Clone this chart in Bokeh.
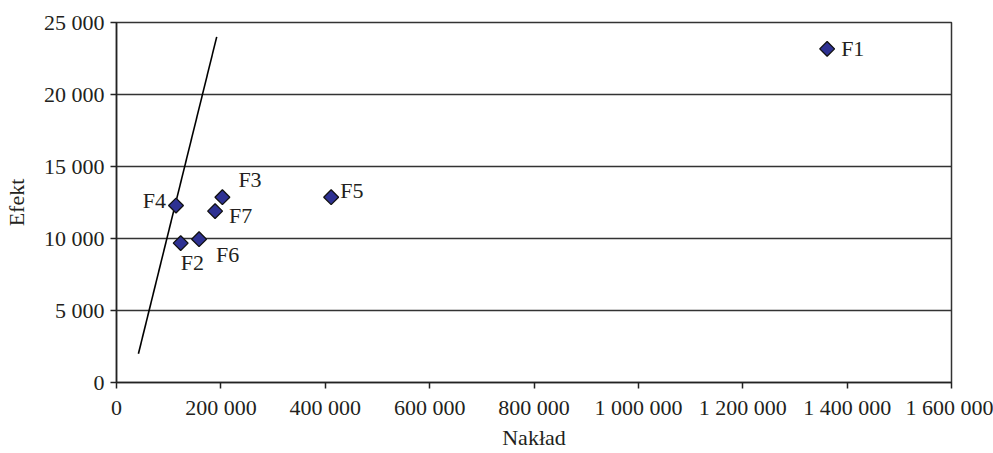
import math
from bokeh.plotting import figure
from bokeh.models import ColumnDataSource, FixedTicker, Range1d
from bokeh.core.properties import value
from bokeh.embed import file_html
from bokeh.resources import INLINE

# Firms: outlay (Nakład) vs effect (Efekt)
names = ["F1", "F2", "F3", "F4", "F5", "F6", "F7"]
naklad = [1361700, 123000, 202900, 114000, 411300, 158200, 188900]
efekt = [23170, 9680, 12870, 12290, 12870, 9950, 11900]

# Reference line end points
line_x = [42000, 192000]
line_y = [2000, 24000]

x_ticks = [0, 200000, 400000, 600000, 800000, 1000000, 1200000, 1400000, 1600000]
x_tick_labels = ["0", "200 000", "400 000", "600 000", "800 000", "1 000 000",
                 "1 200 000", "1 400 000", "1 600 000"]
y_ticks = [0, 5000, 10000, 15000, 20000, 25000]
y_tick_labels = ["0", "5 000", "10 000", "15 000", "20 000", "25 000"]

FONT = "Liberation Serif"
FS = "22px"
TXT = "#231f20"

p = figure(width=993, height=453, output_backend="svg", toolbar_location=None,
           x_range=Range1d(0, 1600000), y_range=Range1d(0, 25000),
           min_border_left=116, min_border_right=42, min_border_top=22,
           min_border_bottom=71)
p.background_fill_color = "white"
p.border_fill_color = "white"
p.outline_line_color = "#333333"
p.outline_line_width = 1.5

p.xgrid.visible = False
p.ygrid.grid_line_color = "#333333"
p.ygrid.grid_line_width = 1.5
p.ygrid.ticker = FixedTicker(ticks=y_ticks)

for ax, ticks, labels in ((p.xaxis[0], x_ticks, x_tick_labels),
                          (p.yaxis[0], y_ticks, y_tick_labels)):
    ax.ticker = FixedTicker(ticks=ticks)
    ax.major_label_overrides = {t: l for t, l in zip(ticks, labels)}
    ax.axis_line_color = "#222222"
    ax.axis_line_width = 1.5
    ax.major_tick_line_color = "#222222"
    ax.major_tick_line_width = 1.5
    ax.major_tick_in = 0
    ax.major_tick_out = 6
    ax.minor_tick_line_color = None
    ax.major_label_text_font = FONT
    ax.major_label_text_font_size = FS
    ax.major_label_text_color = TXT
    ax.axis_label_text_font = FONT
    ax.axis_label_text_font_size = FS
    ax.axis_label_text_font_style = "normal"
    ax.axis_label_text_color = TXT

p.xaxis.axis_label = "Nakład"
p.yaxis.axis_label = "Efekt"
p.xaxis.major_label_standoff = 6
p.xaxis.axis_label_standoff = 2
p.yaxis.major_label_standoff = 6
p.yaxis.axis_label_standoff = 12

p.line(line_x, line_y, line_color="black", line_width=1.6)

# label placement (pixel offsets and alignment per point)
dx = [14, 0, 16, -10, 9, 17, 14]
dy = [0, 19, -18, -5, -7, 15, 4]
align = ["left", "left", "left", "right", "left", "left", "left"]

src = ColumnDataSource(dict(x=naklad, y=efekt, name=names, dx=dx, dy=dy, align=align))
p.scatter("x", "y", source=src, marker="square", angle=math.pi / 4, size=10.5,
          fill_color="#2e3192", line_color="#111111", line_width=1.3)

p.text("x", "y", text="name", source=src, x_offset="dx", y_offset="dy",
       text_align="align", text_baseline="middle",
       text_font=value(FONT), text_font_size=FS, text_color=TXT)

open("out.html", "w").write(file_html(p, INLINE))
